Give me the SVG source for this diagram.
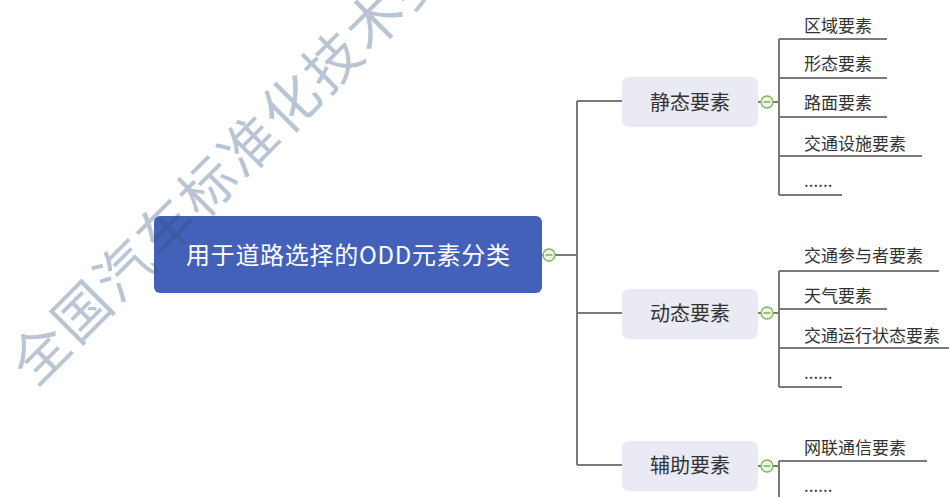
<svg xmlns="http://www.w3.org/2000/svg" width="949" height="497" viewBox="0 0 949 497">
<style>
.ln{stroke:#7a7a7a;stroke-width:2;fill:none}
.l1{fill:#e9eaf3}
.t1{font-family:"Noto Sans CJK SC","Liberation Sans",sans-serif;font-size:20px;fill:#333;text-anchor:middle}
.t2{font-family:"Noto Sans CJK SC","Liberation Sans",sans-serif;font-size:17px;fill:#333}
.tc{font-family:"Noto Sans CJK SC","Liberation Sans",sans-serif;font-size:24px;fill:#fff}
.cc{fill:#eaf6e2;stroke:#7cb65a;stroke-width:1.3}
.cm{stroke:#6aa848;stroke-width:1.3}
</style>
<defs>
<g id="col"><circle class="cc" cx="0" cy="0" r="6"/><line class="cm" x1="-3.5" y1="0" x2="3.5" y2="0"/></g>
</defs>
<rect width="949" height="497" fill="#fff"/>
<g id="connectors">
<path class="ln" d="M542 255H543M555 255H577M577 101V465M577 101H622M577 313H622M577 465H622"/>
<path class="ln" d="M758 102H761M773 102H779M779 39V195M779 39H887M779 78H887M779 117H887M779 156H922M779 195H842"/>
<path class="ln" d="M758 313H761M773 313H779M779 271V387M779 271H939M779 309H887M779 348H949M779 387H842"/>
<path class="ln" d="M758 466H761M773 466H779M779 461V497M779 461H927"/>
</g>
<g id="root">
<rect x="154" y="216" width="388" height="77" rx="6" fill="#4361b9"/>
<text class="tc" x="186" y="264" textLength="324" lengthAdjust="spacing">用于道路选择的ODD元素分类</text>
<use href="#col" x="549" y="255"/>
</g>
<g id="static">
<rect class="l1" x="622" y="77" width="136" height="50" rx="7"/>
<text class="t1" x="690" y="109.5">静态要素</text>
<use href="#col" x="767" y="102"/>
</g>
<g id="dynamic">
<rect class="l1" x="622" y="289" width="136" height="50" rx="7"/>
<text class="t1" x="690" y="321">动态要素</text>
<use href="#col" x="767" y="313"/>
</g>
<g id="aux">
<rect class="l1" x="622" y="441" width="136" height="50" rx="7"/>
<text class="t1" x="690" y="473">辅助要素</text>
<use href="#col" x="767" y="466"/>
</g>
<g id="static-children">
<text class="t2" x="804" y="31.5">区域要素</text>
<text class="t2" x="804" y="70">形态要素</text>
<text class="t2" x="804" y="108.5">路面要素</text>
<text class="t2" x="804" y="149.5">交通设施要素</text>
<text class="t2" x="804" y="187">......</text>
</g>
<g id="dynamic-children">
<text class="t2" x="804" y="261.5">交通参与者要素</text>
<text class="t2" x="804" y="301.5">天气要素</text>
<text class="t2" x="804" y="341.5">交通运行状态要素</text>
<text class="t2" x="804" y="379">......</text>
</g>
<g id="aux-children">
<text class="t2" x="804" y="453.5">网联通信要素</text>
<text class="t2" x="804" y="492">......</text>
</g>
<text transform="translate(35 388) rotate(-45)" x="0" y="0" font-family="Noto Sans CJK SC,sans-serif" font-size="56" letter-spacing="3" fill="#2a5078" fill-opacity="0.33">全国汽车标准化技术委</text>
</svg>
